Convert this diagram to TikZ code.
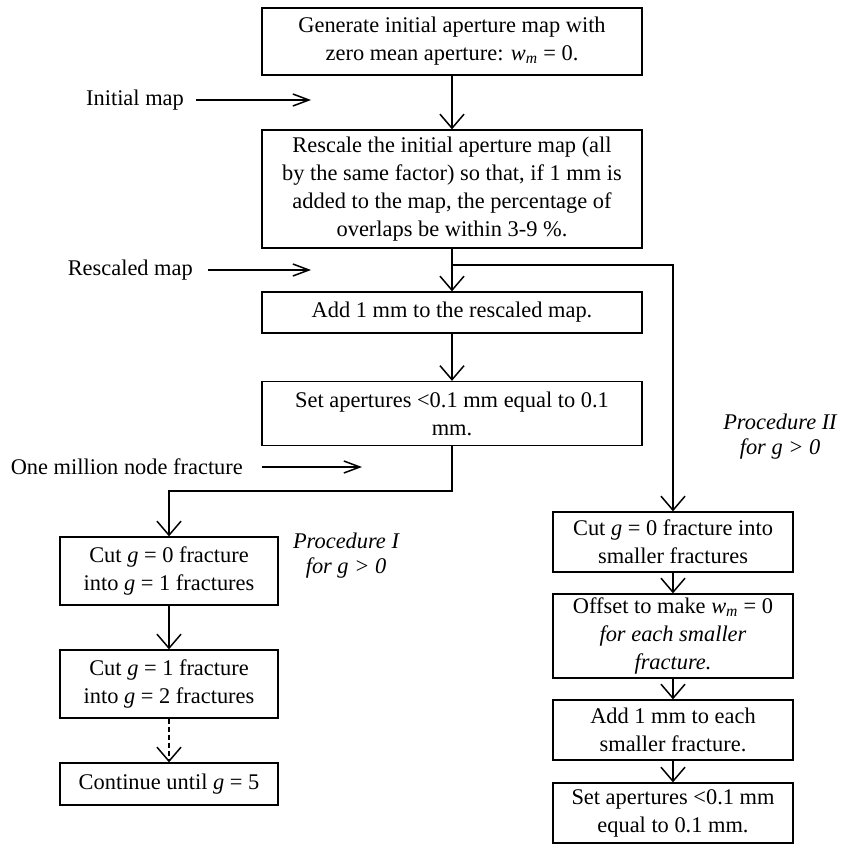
\documentclass[tikz,border=0pt]{standalone}
\usepackage{fontspec}
\setmainfont{Liberation Serif}
\usetikzlibrary{arrows.meta}
\tikzset{
	procbox/.style={draw, line width=1.3pt, align=center, inner sep=0pt, font=\fontsize{22.4}{28}\selectfont},
	flow/.style={line width=1.2pt, -{Straight Barb[length=14pt, width=24pt, line width=1.5pt]}},
	labelflow/.style={line width=1.2pt, -{Straight Barb[length=16pt, width=12pt, line width=1.5pt]}},
	sidetext/.style={inner sep=0pt, font=\fontsize{22.4}{28}\selectfont},
	proctext/.style={inner sep=0pt, align=center, font=\fontsize{22.4}{25}\selectfont\itshape}
}
\newcommand{\wm}{\textit{w}\textsubscript{\textit{m}}}
\newcommand{\gnum}{\textit{g}}
\begin{document}
\begin{tikzpicture}[x=1pt, y={(0,-1pt)}]
		%%%%% START %%%%%
		\useasboundingbox (0, 0) rectangle (851, 861);
		
		\node[procbox, minimum width=380, minimum height=67] (gen) at (452, 41.5) {Generate initial aperture map with\\zero mean aperture: \wm{} = 0.};
		\node[procbox, minimum width=380, minimum height=118] (rescale) at (452, 189) {Rescale the initial aperture map (all\\by the same factor) so that, if 1 mm is\\added to the map, the percentage of\\overlaps be within 3-9 \%.};
		\node[procbox, minimum width=380, minimum height=41] (addmm) at (452, 312.5) {Add 1 mm to the rescaled map.};
		\node[procbox, minimum width=380, minimum height=64] (setap) at (452, 413.5) {Set apertures <0.1 mm equal to 0.1\\mm.};
		
		% procedure I
		\node[procbox, minimum width=218, minimum height=68] (cutI) at (169, 571) {Cut \gnum{} = 0 fracture\\into \gnum{} = 1 fractures};
		\node[procbox, minimum width=218, minimum height=68] (cutII) at (169, 684) {Cut \gnum{} = 1 fracture\\into \gnum{} = 2 fractures};
		\node[procbox, minimum width=218, minimum height=42] (cont) at (169, 784) {Continue until \gnum{} = 5};
		\node[proctext] (procI) at (346, 556) {Procedure I\\for g > 0};
		
		% procedure II
		\node[procbox, minimum width=240, minimum height=60] (cutsm) at (673, 542) {Cut \gnum{} = 0 fracture into\\smaller fractures};
		\node[procbox, minimum width=240, minimum height=84] (offset) at (673, 636) {Offset to make \wm{} = 0\\\textit{for each smaller}\\\textit{fracture.}};
		\node[procbox, minimum width=240, minimum height=60] (addeach) at (673, 730) {Add 1 mm to each\\smaller fracture.};
		\node[procbox, minimum width=240, minimum height=60] (setsm) at (673, 813) {Set apertures <0.1 mm\\equal to 0.1 mm.};
		\node[proctext] (procII) at (780, 437) {Procedure II\\for g > 0};
		
		% side labels
		\node[sidetext, anchor=east] (initial) at (184, 100) {Initial map};
		\node[sidetext, anchor=east] (rescaled) at (193, 270) {Rescaled map};
		\node[sidetext, anchor=east] (million) at (243, 467) {One million node fracture};
		\coordinate (initialtip) at (311, 100);
		\coordinate (rescaledtip) at (311, 270);
		\coordinate (milliontip) at (362, 467);
		\draw[labelflow] ([xshift=12pt]initial.east) -- (initialtip);
		\draw[labelflow] ([xshift=15pt]rescaled.east) -- (rescaledtip);
		\draw[labelflow] ([xshift=19pt]million.east) -- (milliontip);
		
		% connectors
		\coordinate (split) at (452, 265);
		\coordinate (drop) at (452, 491);
		\draw[flow] (gen) -- (rescale);
		\draw[flow] (rescale) -- (addmm);
		\draw[flow] (addmm) -- (setap);
		\draw[flow] (split) -| (cutsm);
		\draw[flow] (setap.south) -- (drop) -| (cutI);
		\draw[flow] (cutI) -- (cutII);
		\draw[flow, dashed, dash pattern=on 5pt off 3pt] (cutII) -- (cont);
		\draw[flow] (cutsm) -- (offset);
		\draw[flow] (offset) -- (addeach);
		\draw[flow] (addeach) -- (setsm);
		
		%%%%% END %%%%%
	\end{tikzpicture}
\end{document}
